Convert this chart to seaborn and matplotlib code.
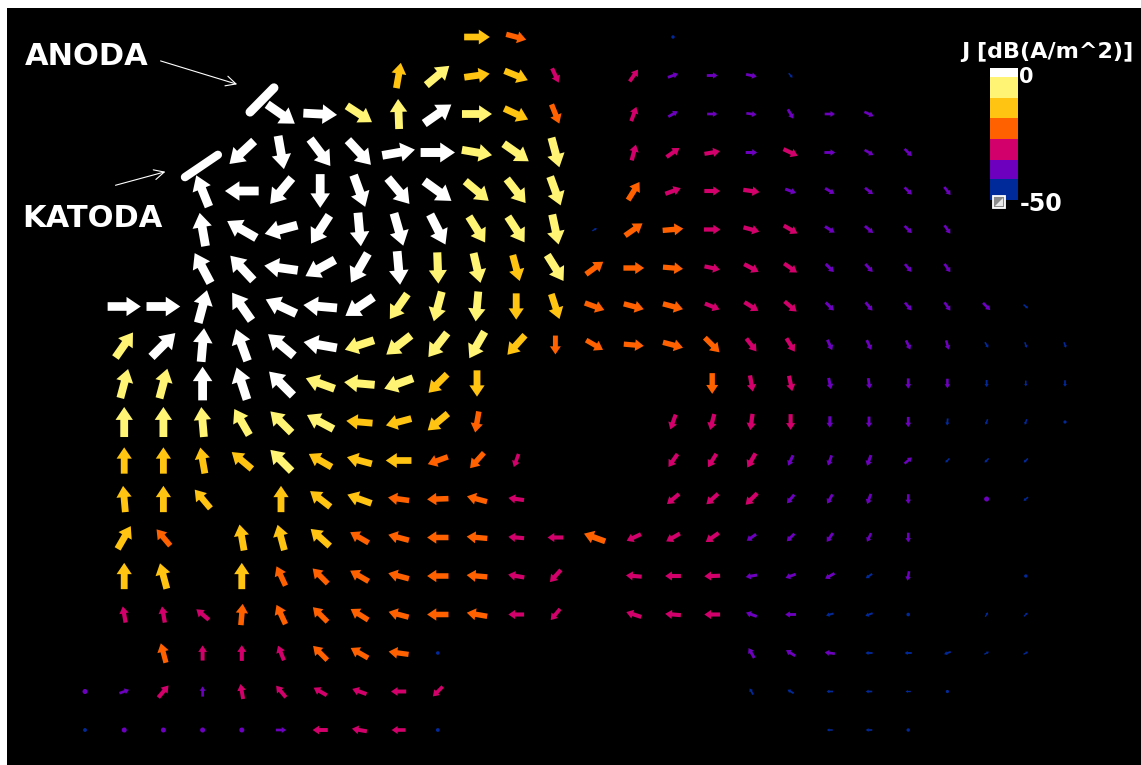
# Libraries
# ===================================================
import numpy as np
import pandas as pd
import seaborn as sns
import matplotlib.pyplot as plt
from matplotlib.path import Path
from matplotlib.patches import Rectangle, Polygon

_ = None  # no vector in this cell

# Data
# ===================================================
# Current density J [dB(A/m^2)] on the sampling grid (row 0 = top, col 0 = left)
J_DB = [
    [_, _, _, _, _, _, _, _, _, _, -15, -23, _, _, _, -48, _, _, _, _, _, _, _, _, _, _],
    [_, _, _, _, _, _, _, _, -15, -8, -15, -16, -31, _, -33, -39, -39, -39, -47, _, _, _, _, _, _, _],
    [_, _, _, _, _, -2, -2, -8, -8, -3, -8, -14, -23, _, -32, -39, -40, -40, -39, -40, -40, _, _, _, _, _],
    [_, _, _, _, -2, -2, -2, -2, -3, -1, -7, -7, -7, _, -30, -31, -31, -38, -31, -39, -40, -40, _, _, _, _],
    [_, _, _, -2, -2, -2, -2, -2, -2, -2, -7, -7, -7, _, -22, -30, -31, -30, -38, -39, -40, -40, -40, _, _, _],
    [_, _, _, -2, -2, -2, -2, -2, -2, -2, -7, -7, -7, -48, -22, -23, -30, -30, -31, -38, -39, -40, -40, _, _, _],
    [_, _, _, -2, -2, -2, -2, -2, -2, -6, -7, -13, -7, -22, -23, -24, -31, -30, -31, -38, -39, -40, -40, _, _, _],
    [_, -3, -2, -2, -2, -2, -2, -2, -7, -7, -8, -14, -14, -23, -23, -23, -31, -30, -31, -38, -39, -40, -40, -40, -47, _],
    [_, -7, -2, -2, -2, -2, -2, -7, -6, -7, -7, -14, -26, -25, -24, -23, -23, -30, -31, -38, -39, -40, -41, -46, -47, -47],
    [_, -8, -7, -2, -2, -2, -7, -7, -7, -14, -14, _, _, _, _, _, -23, -30, -31, -38, -39, -40, -41, -45, -47, -46],
    [_, -8, -8, -8, -8, -8, -8, -14, -14, -14, -22, _, _, _, _, -31, -30, -30, -31, -38, -39, -40, -45, -47, -47, -49],
    [_, -14, -14, -14, -14, -8, -14, -15, -15, -22, -23, -34, _, _, _, -31, -31, -30, -38, -39, -38, -41, -47, -47, -47, _],
    [_, -14, -14, -17, _, -14, -15, -15, -22, -22, -23, -31, _, _, _, -31, -31, -30, -38, -39, -39, -41, _, -40, -47, _],
    [_, -14, -22, _, -14, -14, -15, -22, -22, -22, -23, -31, -31, -20, -31, -31, -31, -38, -39, -39, -41, -41, _, _, _, _],
    [_, -14, -14, _, -14, -22, -22, -22, -22, -22, -23, -30, -30, _, -31, -31, -31, -38, -39, -39, -44, -41, _, _, -48, _],
    [_, -30, -30, -30, -22, -22, -23, -23, -23, -22, -23, -31, -33, _, -31, -31, -31, -38, -39, -44, -44, -47, _, -48, -48, _],
    [_, _, -24, -32, -31, -31, -24, -24, -24, -47, _, _, _, _, _, _, _, -38, -39, -40, -45, -45, -45, -48, -48, _],
    [-40, -40, -31, -40, -32, -32, -32, -32, -32, -34, _, _, _, _, _, _, _, -45, -45, -46, -46, -48, -49, _, _, _],
    [-46, -40, -40, -40, -40, -40, -32, -32, -34, -46, _, _, _, _, _, _, _, _, _, -47, -46, -48, _, _, _, _],
]

# In-plane direction of J in degrees (0 = right, 90 = up), None = seen end-on (dot)
ANGLE = [
    [_, _, _, _, _, _, _, _, _, _, 0, -15, _, _, _, _, _, _, _, _, _, _, _, _, _, _],
    [_, _, _, _, _, _, _, _, 80, 40, 8, -22, -65, _, 55, 20, 0, -12, -50, _, _, _, _, _, _, _],
    [_, _, _, _, _, -35, -3, -33, 92, 35, 0, -25, -68, _, 70, 30, 0, -8, -60, 0, -25, _, _, _, _, _],
    [_, _, _, _, 223, -80, -53, -47, 10, 0, -10, -35, -75, _, 75, 35, 10, 0, -25, 0, -30, -45, _, _, _, _],
    [_, _, _, 112, 180, 230, -90, -70, -50, -36, -40, -52, -70, _, 58, 20, 0, -8, -20, -30, -38, -45, -52, _, _, _],
    [_, _, _, 100, 150, 195, 237, -85, -74, -63, -58, -57, -78, 30, 35, 5, 0, -15, -30, -32, -40, -45, -55, _, _, _],
    [_, _, _, 118, 133, 172, 209, 240, -85, -88, -77, -75, -58, 36, 0, -5, -12, -28, -35, -45, -47, -50, -55, _, _, _],
    [_, 0, 0, 75, 125, 155, 175, 214, 235, 255, 265, 270, -72, -20, -15, -15, -22, -32, -40, -45, -50, -50, -55, -45, -40, _],
    [_, 55, 45, 85, 110, 140, 170, 198, 218, 232, 240, 228, 270, -30, -5, -15, -45, -52, -58, -65, -65, -65, -75, -60, -70, -70],
    [_, 75, 75, 90, 108, 135, 160, 175, 200, 225, 270, _, _, _, _, _, 270, -80, -78, -78, -82, -90, -90, -90, -90, -90],
    [_, 90, 90, 95, 120, 135, 152, 175, 195, 220, 260, _, _, _, _, 250, 255, 262, 270, 270, 270, 270, 265, 250, 250, _],
    [_, 90, 90, 100, 140, 135, 150, 165, 180, 200, 228, 250, _, _, _, 235, 238, 240, 245, 250, 250, 40, 225, 225, 225, _],
    [_, 95, 90, 130, _, 90, 142, 160, 172, 182, 165, 172, _, _, _, 220, 222, 225, 230, 240, 250, 270, _, _, 220, _],
    [_, 60, 130, _, 100, 105, 138, 150, 165, 180, 175, 175, 180, 160, 205, 210, 215, 215, 225, 235, 245, 270, _, _, _, _],
    [_, 90, 105, _, 90, 115, 135, 150, 165, 180, 175, 170, 228, _, 175, 180, 182, 190, 200, 210, 215, 260, _, _, _, _],
    [_, 100, 100, 140, 85, 115, 135, 148, 165, 180, 170, 180, 230, _, 162, 175, 180, 160, 180, 195, 200, _, _, 60, 45, _],
    [_, _, 105, 90, 90, 112, 135, 150, 172, _, _, _, _, _, _, _, _, 120, 148, 172, 180, 180, 200, 30, 30, _],
    [_, 20, 50, 90, 100, 130, 150, 160, 180, 225, _, _, _, _, _, _, _, 120, 150, 180, 180, 180, _, _, _, _],
    [_, _, _, _, _, 0, 180, 170, 180, _, _, _, _, _, _, _, _, _, _, 180, 180, _, _, _, _, _],
]

# Colour scale (discrete bands, dB)
BAND_EDGES = [-50, -42, -35, -27, -19, -11.5, -3.5, 0]
BAND_NAMES = ['blue', 'purple', 'crimson', 'orange', 'gold', 'yellow', 'white']
BAND_COLORS = ['#00299A', '#6D00BF', '#D1006A', '#FF6100', '#FFC412', '#FFF473', '#FFFFFF']

# Electrodes (grid units)
ANODE_X, ANODE_Y = [4.21, 4.82], [1.95, 1.32]
CATHODE_X, CATHODE_Y = [2.55, 3.39], [3.64, 3.06]

# Data Manipulation
# ===================================================
records = []
for r, (row_db, row_ang) in enumerate(zip(J_DB, ANGLE)):
    for c, (v, a) in enumerate(zip(row_db, row_ang)):
        if v is None:
            continue
        records.append({'col': c, 'row': r, 'db': v,
                        'shape': 'dot' if a is None else f'a{a}'})
df = pd.DataFrame(records)
df['band'] = pd.cut(df['db'], bins=BAND_EDGES[:-1] + [0.01], labels=BAND_NAMES,
                    right=False).astype(str)

# Marker size: arrow length in px grows with dB, dots stay small
length_px = 0.62 * (df['db'] + 50) + 4.0
dot_px = 3.0 + 0.2 * (df['db'] + 50)
is_dot = df['shape'] == 'dot'
df['area'] = np.where(is_dot, (dot_px * 0.72) ** 2, (length_px * 1.44) ** 2)

# Arrow glyph (unit length, centred), rotated per direction
ARROW = np.array([[-0.5, -0.13], [0.07, -0.13], [0.07, -0.29], [0.5, 0.0],
                  [0.07, 0.29], [0.07, 0.13], [-0.5, 0.13]])


def arrow_path(deg):
    t = np.deg2rad(deg)
    rot = np.array([[np.cos(t), -np.sin(t)], [np.sin(t), np.cos(t)]])
    pts = ARROW @ rot.T
    # extra moveto keeps the marker normalisation identical for all angles
    verts = np.vstack([[1.0, 1.0], pts, pts[:1]])
    codes = [Path.MOVETO, Path.MOVETO] + [Path.LINETO] * (len(pts) - 1) + [Path.CLOSEPOLY]
    return Path(verts, codes)


markers = {}
for s in df['shape'].unique():
    markers[s] = 'o' if s == 'dot' else arrow_path(float(s[1:]))

# Data Visualization
# ===================================================
sns.set_theme(style='dark')
plt.rcParams['font.family'] = 'DejaVu Sans'

W, H = 1141, 765
fig = plt.figure(figsize=(W / 100, H / 100), dpi=100, facecolor='white')
ax = fig.add_axes([7 / W, 0, 1 - 7 / W, 1 - 8 / H])
ax.set_facecolor('black')

sns.scatterplot(
    data=df, x='col', y='row',
    hue='band', hue_order=BAND_NAMES, palette=dict(zip(BAND_NAMES, BAND_COLORS)),
    style='shape', markers=markers,
    size='area', sizes=(df['area'].min(), df['area'].max()),
    size_norm=(df['area'].min(), df['area'].max()),
    linewidth=0, edgecolor='none', legend=False, ax=ax, zorder=3
)

# Pixel layout: col 0 at x=85 px (39.2 px step), row 0 at y=37 px (38.5 px step)
ax.set_xlim((7 - 85) / 39.2, (1141 - 85) / 39.2)
ax.set_ylim((765 - 37) / 38.5, (8 - 37) / 38.5)
ax.set(xlabel='', ylabel='', xticks=[], yticks=[])
for sp in ax.spines.values():
    sp.set_visible(False)
ax.grid(False)

# Electrodes
ax.plot(ANODE_X, ANODE_Y, color='white', lw=6.5, solid_capstyle='round', zorder=4)
ax.plot(CATHODE_X, CATHODE_Y, color='white', lw=6, solid_capstyle='round', zorder=4)

# Labels with pointers
arrow_kw = dict(arrowstyle='->,head_length=0.6,head_width=0.3', color='white', lw=0.8)
ax.annotate('', xy=(3.95, 1.25), xytext=(1.86, 0.60), arrowprops=arrow_kw, zorder=4)
ax.annotate('', xy=(2.12, 3.48), xytext=(0.71, 3.87), arrowprops=arrow_kw, zorder=4)
fig.text(25 / W, 1 - 65 / H, 'ANODA', color='white', fontsize=22, fontweight='bold',
         ha='left', va='baseline')
fig.text(22 / W, 1 - 227 / H, 'KATODA', color='white', fontsize=22, fontweight='bold',
         ha='left', va='baseline')

# Colour bar
cax = fig.add_axes([990 / W, 1 - 200 / H, 28 / W, 132 / H])
bottoms = BAND_EDGES[:-1]
heights = np.diff(BAND_EDGES)
cax.bar(np.zeros(len(bottoms)), heights, bottom=bottoms, width=1.0,
        color=BAND_COLORS, linewidth=0)
cax.set_xlim(-0.5, 0.5)
cax.set_ylim(BAND_EDGES[0], BAND_EDGES[-1])
cax.set_axis_off()

fig.text(1133 / W, 1 - 58 / H, 'J [dB(A/m^2)]', color='white', fontsize=16,
         fontweight='bold', ha='right', va='baseline')
fig.text(1019 / W, 1 - 83 / H, f'{BAND_EDGES[-1]}', color='white', fontsize=15,
         fontweight='bold', ha='left', va='baseline')
fig.text(1020 / W, 1 - 211 / H, f'{BAND_EDGES[0]}', color='white', fontsize=17,
         fontweight='bold', ha='left', va='baseline')

# Small toolbar icon under the bar
fig.add_artist(Rectangle((993 / W, 1 - 208 / H), 12 / W, 12 / H, transform=fig.transFigure,
                         facecolor='#8a8a8a', edgecolor='white', lw=1.3, zorder=5))
fig.add_artist(Polygon([[995 / W, 1 - 206 / H], [1003 / W, 1 - 198 / H], [1003 / W, 1 - 206 / H]],
                       closed=True, transform=fig.transFigure, facecolor='#e8e8e8',
                       edgecolor='none', zorder=6))

# Save the figure
fig.savefig('out.png', dpi=100, facecolor='white')
